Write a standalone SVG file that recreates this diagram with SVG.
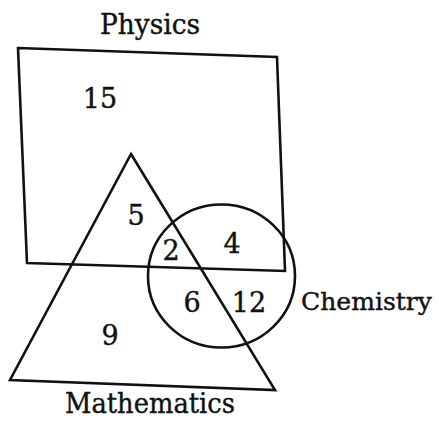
<svg xmlns="http://www.w3.org/2000/svg" width="439" height="423" viewBox="0 0 439 423">
<style>
.s{fill:none;stroke:#111;stroke-width:2.6;stroke-linejoin:miter}
.t{font-family:"DejaVu Serif","Liberation Serif",serif;fill:#111;stroke:#111;stroke-width:0.4}
.n{font-size:27px;text-anchor:middle}
.l{font-size:27px}
</style>
<rect width="439" height="423" fill="#fff"/>
<g id="physics">
<polygon class="s" points="18,48 277,57 285,271 27,263"/>
<text class="t l" x="150" y="34" text-anchor="middle" textLength="100" lengthAdjust="spacingAndGlyphs">Physics</text>
</g>
<g id="mathematics">
<polygon class="s" points="131,154 275,390 10,380"/>
<text class="t l" x="150" y="413" text-anchor="middle" textLength="170" lengthAdjust="spacingAndGlyphs">Mathematics</text>
</g>
<g id="chemistry">
<ellipse class="s" cx="221.5" cy="276" rx="73.5" ry="71.5"/>
<text class="t" x="301" y="310" font-size="25" textLength="131" lengthAdjust="spacingAndGlyphs">Chemistry</text>
</g>
<g id="counts">
<text class="t n" x="100" y="108">15</text>
<text class="t n" x="136" y="225">5</text>
<text class="t n" x="171" y="260">2</text>
<text class="t n" x="232" y="253">4</text>
<text class="t n" x="192" y="312">6</text>
<text class="t n" x="249" y="312">12</text>
<text class="t n" x="110" y="345">9</text>
</g>
</svg>
